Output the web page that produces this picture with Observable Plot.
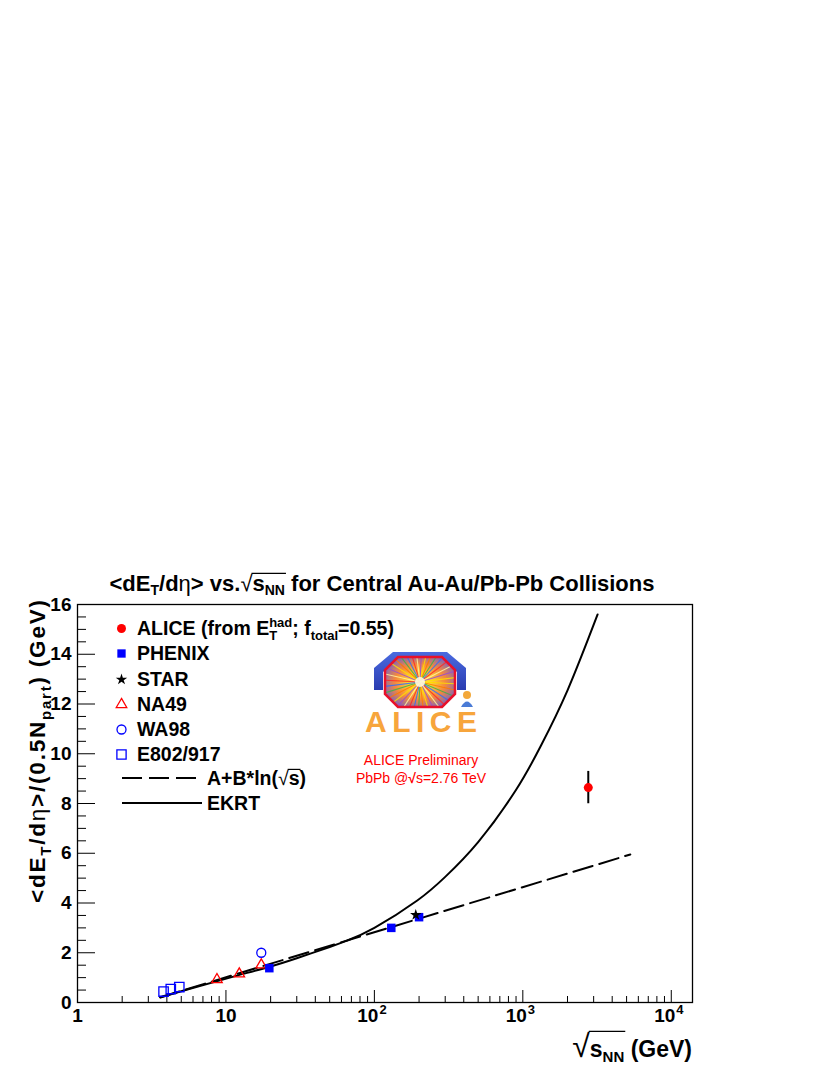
<!DOCTYPE html>
<html><head><meta charset="utf-8">
<script src="https://cdn.jsdelivr.net/npm/d3@7"></script>
<script src="https://cdn.jsdelivr.net/npm/@observablehq/plot@0.6"></script>
<style>
html,body{margin:0;padding:0;background:#fff;}
#wrap{position:relative;width:830px;height:1075px;overflow:hidden;}
#wrap svg{position:absolute;left:0;top:0;}
#ann text{font-family:"Liberation Sans",Arial,Helvetica,sans-serif;font-weight:bold;fill:#000;}
</style></head><body>
<div id="wrap"></div>
<script>
// ---- data ----
const aliceX = [2760], aliceY = [8.64], aliceErr = [0.65];
const phenixX = [19.6, 130, 200], phenixY = [1.38, 3.0, 3.43];
const starX = [190], starY = [3.52];
const na49X = [8.7, 12.3, 17.3], na49Y = [0.92, 1.15, 1.51];
const wa98X = [17.3], wa98Y = [2.0];
const e802X = [3.8, 4.25, 4.85], e802Y = [0.44, 0.54, 0.62];
const fitX = [3.6, 5300], fitY = [0.21, 5.95];
const ekrtX = [3.62, 5, 8.65, 12.2, 20, 30, 50, 65.7, 100, 194.5, 300, 500, 894, 1318, 2000, 3190];
const ekrtY = [0.20, 0.45, 0.85, 1.10, 1.45, 1.78, 2.23, 2.49, 3.0, 4.1, 5.05, 6.45, 8.52, 10.3, 12.55, 15.6];
const xMajor = [1, 10, 100, 1000, 10000];
const xLabelBase = ["1", "10", "10", "10", "10"];
const xLabelExp = ["", "", "2", "3", "4"];
const xMinor = [2,3,4,5,6,7,8,9,20,30,40,50,60,70,80,90,200,300,400,500,600,700,800,900,2000,3000,4000,5000,6000,7000,8000,9000];
const yMajor = [0, 2, 4, 6, 8, 10, 12, 14, 16];
const yMinor = [0.5,1,1.5,2.5,3,3.5,4.5,5,5.5,6.5,7,7.5,8.5,9,9.5,10.5,11,11.5,12.5,13,13.5,14.5,15,15.5];

// ---- layout ----
const FONT = '"Liberation Sans",Arial,Helvetica,sans-serif';
const W = 830, H = 1075, ML = 77, MR = 138, MT = 604, MB = 73;
const PW = W - ML - MR, PH = H - MT - MB;
const pts = (xs, ys) => xs.map((x, i) => ({x, y: ys[i]}));
const xTicks = xMajor.map((v, i) => ({v, base: xLabelBase[i], exp: xLabelExp[i]}));
const alice = aliceX.map((x, i) => ({x, y: aliceY[i], lo: aliceY[i] - aliceErr[i], hi: aliceY[i] + aliceErr[i]}));

const legendSym = [
  {row: 628, symbol: "circle", fill: "#ff0000", stroke: "none", r: 4.5},
  {row: 653, symbol: "square", fill: "#0000ff", stroke: "none", r: 4.7},
  {row: 679, symbol: "star", fill: "#000", stroke: "none", r: 3.6},
  {row: 704, symbol: "triangle", fill: "none", stroke: "#ff0000", r: 3.9},
  {row: 729, symbol: "circle", fill: "none", stroke: "#0000ff", r: 4.5},
  {row: 754, symbol: "square", fill: "none", stroke: "#0000ff", r: 5.2}
];

const chart = Plot.plot({
  width: W, height: H,
  marginLeft: ML, marginRight: MR, marginTop: MT, marginBottom: MB,
  style: {fontFamily: FONT, background: "transparent", overflow: "visible"},
  x: {type: "log", domain: [1, 13900], axis: null},
  y: {domain: [0, 16], axis: null},
  marks: [
    Plot.ruleX(xMinor, {x: d => d, insetTop: PH - 6, stroke: "#000", strokeWidth: 1}),
    Plot.ruleX(xMajor, {x: d => d, insetTop: PH - 12, stroke: "#000", strokeWidth: 1}),
    Plot.ruleY(yMinor, {y: d => d, insetRight: PW - 9, stroke: "#000", strokeWidth: 1}),
    Plot.ruleY(yMajor, {y: d => d, insetRight: PW - 18, stroke: "#000", strokeWidth: 1}),
    Plot.frame({stroke: "#000", strokeWidth: 1.3}),
    // tick labels
    Plot.text(xTicks.filter(d => !d.exp), {x: "v", text: "base", frameAnchor: "bottom", dy: 19, fontSize: 19, fontWeight: "bold", fill: "#000"}),
    Plot.text(xTicks.filter(d => d.exp), {x: "v", text: "base", frameAnchor: "bottom", dy: 19, dx: 4, textAnchor: "end", fontSize: 19, fontWeight: "bold", fill: "#000"}),
    Plot.text(xTicks.filter(d => d.exp), {x: "v", text: "exp", frameAnchor: "bottom", dy: 11, dx: 5, textAnchor: "start", fontSize: 13, fontWeight: "bold", fill: "#000"}),
    Plot.text(yMajor, {y: d => d, text: d => String(d), frameAnchor: "left", dx: -6, textAnchor: "end", fontSize: 19, fontWeight: "bold", fill: "#000"}),
    // curves
    Plot.line(pts(fitX, fitY), {x: "x", y: "y", stroke: "#000", strokeWidth: 2, strokeDasharray: "20,7"}),
    Plot.line(pts(ekrtX, ekrtY), {x: "x", y: "y", stroke: "#000", strokeWidth: 2, curve: "natural"}),
    // data points
    Plot.ruleX(alice, {x: "x", y1: "lo", y2: "hi", stroke: "#000", strokeWidth: 2}),
    Plot.dot(alice, {x: "x", y: "y", fill: "#ff0000", r: 4.5}),
    Plot.dot(pts(e802X, e802Y), {x: "x", y: "y", symbol: "square", stroke: "#0000ff", fill: "none", r: 5.3, strokeWidth: 1.3}),
    Plot.dot(pts(na49X, na49Y), {x: "x", y: "y", symbol: "triangle", stroke: "#ff0000", fill: "none", r: 3.9, strokeWidth: 1.3}),
    Plot.dot(pts(wa98X, wa98Y), {x: "x", y: "y", symbol: "circle", stroke: "#0000ff", fill: "none", r: 4.5, strokeWidth: 1.3}),
    Plot.dot(pts(phenixX, phenixY), {x: "x", y: "y", symbol: "square", fill: "#0000ff", r: 4.8}),
    Plot.dot(pts(starX, starY), {x: "x", y: "y", symbol: "star", fill: "#000", r: 3.6}),
    // legend symbols
    ...legendSym.map(s => Plot.dot([0], {frameAnchor: "top-left", dx: 121 - ML, dy: s.row - MT, symbol: s.symbol, fill: s.fill, stroke: s.stroke, r: s.r, strokeWidth: 1.3}))
  ]
});
const wrap = document.getElementById("wrap");
wrap.appendChild(chart);

// ---- annotations (title, axis titles, legend text, logo) ----
let rays = "";
const rayCols = ["#ffe000", "#ff7a00", "#39b54a", "#2f6fff", "#ff2a2a", "#fff6a0", "#9a4fd0"];
for (let i = 0; i < 36; i++) {
  const a = i * Math.PI * 2 / 36 + 0.05;
  rays += `<line x1="420" y1="682" x2="${(420 + 60 * Math.cos(a)).toFixed(1)}" y2="${(682 + 60 * Math.sin(a)).toFixed(1)}" stroke="${rayCols[i % rayCols.length]}" stroke-width="1.1" opacity="0.85"/>`;
}
const ann = `
<svg id="ann" width="830" height="1075" xmlns="http://www.w3.org/2000/svg" style="pointer-events:none">
<defs>
 <radialGradient id="burst" cx="50%" cy="50%" r="60%">
  <stop offset="0" stop-color="#fff8b0"/>
  <stop offset="0.25" stop-color="#ffd33a"/>
  <stop offset="0.6" stop-color="#f48a40"/>
  <stop offset="1" stop-color="#6a5fd0"/>
 </radialGradient>
 <linearGradient id="blueg" x1="0" y1="0" x2="0" y2="1">
  <stop offset="0" stop-color="#4a6ae0"/><stop offset="1" stop-color="#2a3cb0"/>
 </linearGradient>
 <clipPath id="octclip"><polygon points="398,657 442,657 455,670 455,694 442,707 398,707 385,694 385,670"/></clipPath>
</defs>
<!-- title -->
<text id="title" x="382" y="591" text-anchor="middle" font-size="22">&lt;dE<tspan dy="4" font-size="14">T</tspan><tspan dy="-4">/d</tspan><tspan font-weight="normal">η</tspan>&gt; vs.<tspan font-weight="normal">√</tspan>s<tspan dy="4" font-size="14">NN</tspan><tspan dy="-4"> for Central Au-Au/Pb-Pb Collisions</tspan></text>
<!-- y title -->
<text transform="translate(45,600) rotate(-90)" text-anchor="end" font-size="22.5" textLength="303" lengthAdjust="spacing">&lt;dE<tspan dy="6" font-size="15">T</tspan><tspan dy="-6">/d</tspan><tspan font-weight="normal">η</tspan>&gt;/(0.5N<tspan dy="6" font-size="15">part</tspan><tspan dy="-6">) (GeV)</tspan></text>
<!-- x title -->
<text id="xtitle" x="692" y="1057" text-anchor="end" font-size="23"><tspan font-weight="normal" font-size="32">√</tspan>s<tspan dy="5" font-size="15">NN</tspan><tspan dy="-5"> (GeV)</tspan></text>
<!-- legend text -->
<g font-size="19.5">
<text x="137" y="635" font-size="19.5">ALICE (from E<tspan dy="-8" font-size="13">had</tspan><tspan dx="-23" dy="13" font-size="13">T</tspan><tspan dx="15" dy="-5">; f</tspan><tspan dy="5" font-size="13">total</tspan><tspan dy="-5">=0.55)</tspan></text>
<text x="137" y="660" font-size="19.5">PHENIX</text>
<text x="137" y="686" font-size="19.5">STAR</text>
<text x="137" y="711" font-size="19.5">NA49</text>
<text x="137" y="736" font-size="19.5">WA98</text>
<text x="137" y="761" font-size="19.5">E802/917</text>
<text id="fitlab" x="207" y="785" font-size="19.5">A+B*ln(<tspan font-weight="normal">√</tspan>s)</text>
<text x="207" y="810" font-size="19.5">EKRT</text>
</g>
<line x1="122" y1="778" x2="202" y2="778" stroke="#000" stroke-width="2" stroke-dasharray="20,7"/>
<line x1="122" y1="803" x2="202" y2="803" stroke="#000" stroke-width="2"/>
<!-- ALICE logo -->
<path d="M374,690 L374,668 L393,652 L447,652 L466,668 L466,690 L457,690 L457,672 L443,660 L397,660 L383,672 L383,690 Z" fill="url(#blueg)"/>
<polygon points="398,657 442,657 455,670 455,694 442,707 398,707 385,694 385,670" fill="url(#burst)"/>
<g clip-path="url(#octclip)">${rays}</g>
<polygon points="398,657 442,657 455,670 455,694 442,707 398,707 385,694 385,670" fill="none" stroke="#e8102a" stroke-width="2.5"/>
<circle cx="420" cy="682" r="5" fill="#fffbe0" opacity="0.9"/>
<text x="421" y="732" text-anchor="middle" font-size="30" style="fill:#f7a53c" textLength="112" lengthAdjust="spacing">ALICE</text>
<circle cx="467" cy="695" r="4" fill="#f3a83a"/>
<path d="M461,707 Q467,696 473,707 Z" fill="#4a7bd6"/>
<!-- preliminary -->
<text x="421" y="765" text-anchor="middle" font-size="14" style="fill:#ff0000;font-weight:normal">ALICE Preliminary</text>
<text x="421" y="783" text-anchor="middle" font-size="14" style="fill:#ff0000;font-weight:normal">PbPb @<tspan style="font-weight:bold">√</tspan>s=2.76 TeV</text>
</svg>`;
wrap.insertAdjacentHTML("beforeend", ann);

// overlines of the radicals
const annSvg = document.getElementById("ann");
function overline(id, nChars, fs) {
  const t = document.getElementById(id);
  const tc = t.textContent;
  const i = tc.indexOf("√");
  try {
    const a = t.getExtentOfChar(i);
    const b = t.getExtentOfChar(i + nChars);
    const base = parseFloat(t.getAttribute("y"));
    const y = base - 0.8 * fs;
    const l = document.createElementNS("http://www.w3.org/2000/svg", "line");
    l.setAttribute("x1", a.x + a.width - 1); l.setAttribute("x2", b.x + b.width + 1);
    l.setAttribute("y1", y); l.setAttribute("y2", y);
    l.setAttribute("stroke", "#000"); l.setAttribute("stroke-width", "1.2");
    annSvg.appendChild(l);
  } catch (e) {}
}
overline("title", 3, 22);
overline("xtitle", 3, 32);
overline("fitlab", 1, 19.5);
</script>
</body></html>
